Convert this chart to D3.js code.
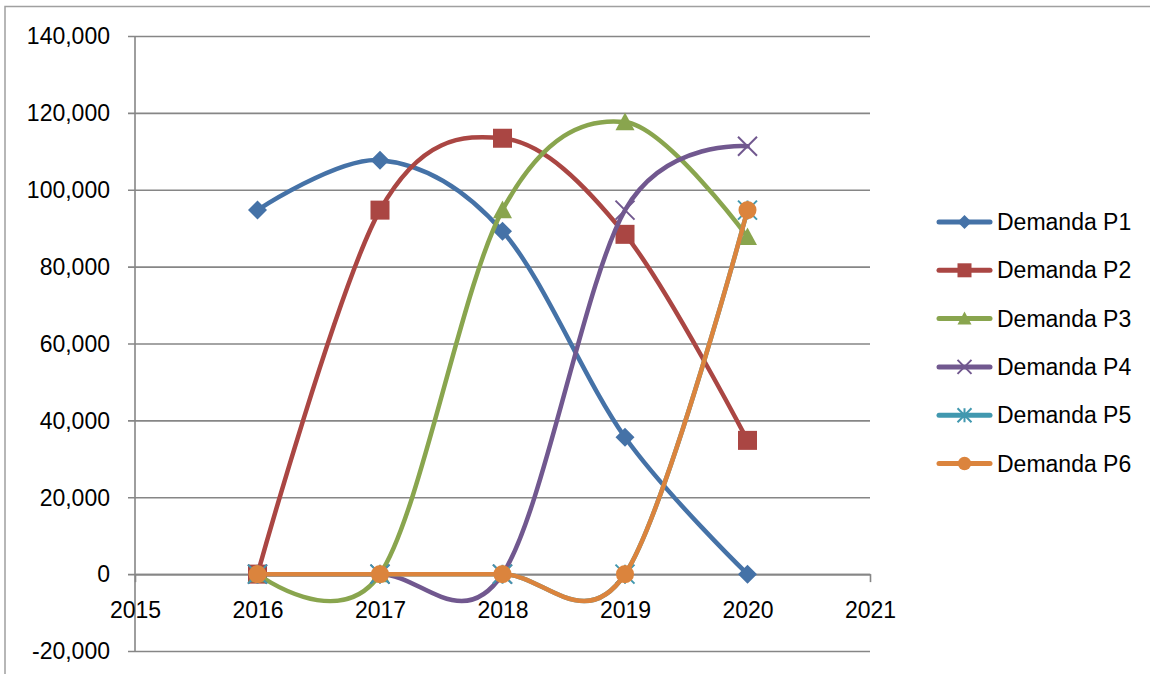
<!DOCTYPE html>
<html>
<head>
<meta charset="utf-8">
<script src="https://cdn.jsdelivr.net/npm/d3@7"></script>
<style>
  body { margin: 0; background: #fff; }
  text { font-family: "Liberation Sans", Arial, sans-serif; fill: #000; }
</style>
</head>
<body>
<svg id="chart" width="1150" height="674"></svg>
<script>
var years = [2016, 2017, 2018, 2019, 2020];
var xTicks = [2015, 2016, 2017, 2018, 2019, 2020, 2021];
var yTicks = [-20000, 0, 20000, 40000, 60000, 80000, 100000, 120000, 140000];
var names = ["Demanda P1", "Demanda P2", "Demanda P3", "Demanda P4", "Demanda P5", "Demanda P6"];
var p1 = [94700, 107700, 89200, 35600, 0];
var p2 = [0, 94700, 113400, 88400, 34800];
var p3 = [0, 0, 94700, 117600, 87700];
var p4 = [0, 0, 0, 94700, 111300];
var p5 = [0, 0, 0, 0, 94700];
var p6 = [0, 0, 0, 0, 94700];
var colors = ["#4572A7", "#AA4643", "#89A54E", "#71588F", "#4198AF", "#DB843D"];
var markers = ["diamond", "square", "triangle", "x", "star", "circle"];

var series = [p1, p2, p3, p4, p5, p6];

var svg = d3.select("#chart");

// outer chart border (only top and left are in frame)
svg.append("rect")
  .attr("x", 5).attr("y", 6.5)
  .attr("width", 1200).attr("height", 700)
  .style("fill", "none").style("stroke", "#a0a0a0").style("stroke-width", 1.5);

var xScale = d3.scaleLinear().domain([2015, 2021]).range([135, 870]);
var yScale = d3.scaleLinear().domain([-20000, 140000]).range([651, 36]);

var fmt = d3.format(",");

// horizontal gridlines + y tick labels
var yAxis = d3.axisLeft(yScale)
  .tickValues(yTicks)
  .tickSize(-(870 - 135))
  .tickSizeOuter(0)
  .tickPadding(0)
  .tickFormat(function(d) { return fmt(d).replace("\u2212", "-"); });

var gy = svg.append("g").attr("transform", "translate(135,0)").call(yAxis);
gy.select(".domain").remove();
gy.selectAll(".tick line")
  .attr("x1", -7)
  .style("stroke", "#868686").style("stroke-width", 1.6);
gy.selectAll(".tick text")
  .attr("x", -25).attr("dy", "0.34em")
  .style("font-size", "23px").style("font-family", "Liberation Sans, Arial, sans-serif");

// y axis line
svg.append("line")
  .attr("x1", 135).attr("x2", 135)
  .attr("y1", yScale(140000)).attr("y2", yScale(-20000))
  .style("stroke", "#868686").style("stroke-width", 1.6);

// x axis at zero
var xAxis = d3.axisBottom(xScale)
  .tickValues(xTicks)
  .tickSize(8)
  .tickSizeOuter(0)
  .tickFormat(d3.format("d"));

var gx = svg.append("g").attr("transform", "translate(0," + yScale(0) + ")").call(xAxis);
gx.select(".domain").style("stroke", "#868686").style("stroke-width", 1.6);
gx.selectAll(".tick line").style("stroke", "#868686").style("stroke-width", 1.6);
gx.selectAll(".tick text")
  .attr("y", 44).attr("dy", 0)
  .style("font-size", "23px").style("font-family", "Liberation Sans, Arial, sans-serif");

var line = d3.line()
  .x(function(d, i) { return xScale(years[i]); })
  .y(function(d) { return yScale(d); })
  .curve(d3.curveCatmullRom.alpha(0));

function drawMarker(g, type, color, x, y, s) {
  if (type == "diamond") {
    g.append("path")
      .attr("d", "M" + x + "," + (y - s) + "L" + (x + s) + "," + y + "L" + x + "," + (y + s) + "L" + (x - s) + "," + y + "Z")
      .style("fill", color);
  } else if (type == "square") {
    g.append("rect")
      .attr("x", x - s).attr("y", y - s).attr("width", 2 * s).attr("height", 2 * s)
      .style("fill", color);
  } else if (type == "triangle") {
    g.append("path")
      .attr("d", "M" + x + "," + (y - s) + "L" + (x + s) + "," + (y + s * 0.85) + "L" + (x - s) + "," + (y + s * 0.85) + "Z")
      .style("fill", color);
  } else if (type == "circle") {
    g.append("circle").attr("cx", x).attr("cy", y).attr("r", s * 0.95).style("fill", color);
  } else {
    var p = "M" + (x - s) + "," + (y - s) + "L" + (x + s) + "," + (y + s) +
            "M" + (x + s) + "," + (y - s) + "L" + (x - s) + "," + (y + s);
    if (type == "star") p += "M" + x + "," + (y - s) + "L" + x + "," + (y + s);
    g.append("path").attr("d", p)
      .style("fill", "none").style("stroke", color).style("stroke-width", 2);
  }
}

series.forEach(function(values, k) {
  var g = svg.append("g");
  g.append("path")
    .attr("d", line(values))
    .style("fill", "none")
    .style("stroke", colors[k])
    .style("stroke-width", 4.5)
    .style("stroke-linecap", "round");
  values.forEach(function(v, i) {
    drawMarker(g, markers[k], colors[k], xScale(years[i]), yScale(v), 9.5);
  });
});

// legend
var legend = svg.append("g");
names.forEach(function(name, k) {
  var cy = 222 + k * 48.3;
  legend.append("line")
    .attr("x1", 939).attr("x2", 990)
    .attr("y1", cy).attr("y2", cy)
    .style("stroke", colors[k]).style("stroke-width", 5)
    .style("stroke-linecap", "round");
  drawMarker(legend, markers[k], colors[k], 964.5, cy, 7);
  legend.append("text")
    .attr("x", 997).attr("y", cy)
    .attr("dy", "0.35em")
    .style("font-size", "23px")
    .text(name);
});
</script>
</body>
</html>
